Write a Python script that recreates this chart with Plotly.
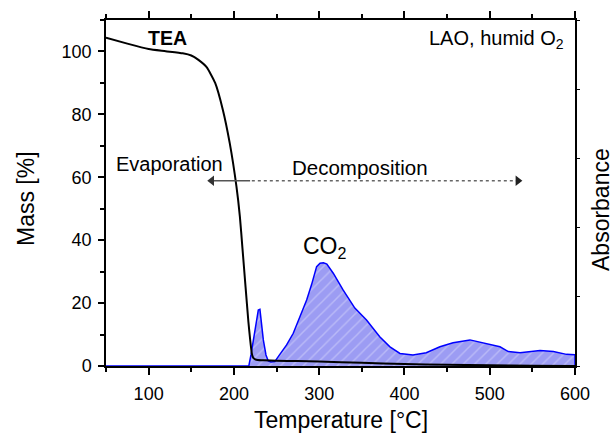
import plotly.graph_objects as go

# ---- data ----
temp_mass = [50, 75, 100, 120, 140, 150, 158, 168, 178, 187, 195, 203, 207, 210, 213.7,
             217, 219, 221, 222, 223, 225, 228, 235, 250, 275, 300, 350, 400, 450, 500, 550, 600]
mass = [104.4, 102.5, 100.8, 100.1, 99.4, 98.7, 97.4, 95.0, 90.0, 81.5, 71.0, 57.0, 47.5, 37.5, 25.0,
        14.0, 8.5, 4.0, 3.0, 2.5, 2.1, 1.9, 1.8, 1.7, 1.55, 1.4, 1.0, 0.6, 0.4, 0.2, 0.1, 0.0]

temp_co2 = [50, 150, 217.5, 220, 222.8, 226, 228.6, 230.5, 232.5, 234.5, 237.6, 240.3, 243.5,
            248, 252, 256, 261.8, 269.6, 277.4, 285.3, 291, 293, 297, 301, 305, 309, 316.5,
            328, 341.8, 355.5, 371, 383, 394.7, 410, 425.6, 441.6, 457, 476.8, 496.3, 512,
            521.8, 535.5, 559, 574.6, 590, 600, 600]
co2 = [0, 0, 0, 3.5, 8.3, 14.6, 17.8, 18.0, 13.5, 8.3, 3.5, 1.6, 1.3,
       1.4, 3.0, 4.5, 6.7, 10.4, 15.7, 21.0, 25.8, 28.0, 31.6, 32.7, 32.8, 32.4, 29.5,
       24.2, 18.4, 14.6, 9.3, 6.1, 4.0, 3.5, 4.2, 6.1, 7.4, 8.3, 7.2, 6.1,
       4.6, 4.2, 4.9, 4.6, 3.7, 3.6, 0]

# arrow geometry (data units)
arrow_y = 58.9
evap_tip, split_x, decomp_tip = 172, 219, 535

FONT = "Arial, Liberation Sans, sans-serif"

fig = go.Figure()
fig.add_trace(go.Scatter(
    x=temp_co2, y=co2, mode="lines", fill="tozeroy",
    line=dict(color="#0000ff", width=1.5),
    fillcolor="#9c9cf3",
    fillpattern=dict(shape="/", bgcolor="#9c9cf3", fgcolor="rgba(255,255,255,0.6)",
                     size=8, solidity=0.18),
    showlegend=False, hoverinfo="skip"))
fig.add_trace(go.Scatter(
    x=temp_mass, y=mass, mode="lines",
    line=dict(color="black", width=2, shape="spline", smoothing=0.5),
    showlegend=False, hoverinfo="skip"))
# invisible trace to activate y2
fig.add_trace(go.Scatter(x=[50], y=[0], yaxis="y2", mode="markers",
                         marker=dict(opacity=0), showlegend=False, hoverinfo="skip"))

# arrows: solid (evaporation) and dotted (decomposition)
fig.add_trace(go.Scatter(x=[evap_tip + 3, split_x], y=[arrow_y, arrow_y], mode="lines",
                         line=dict(color="#555555", width=1.5),
                         showlegend=False, hoverinfo="skip"))
fig.add_trace(go.Scatter(x=[split_x + 2, decomp_tip - 3], y=[arrow_y, arrow_y], mode="lines",
                         line=dict(color="#666666", width=1.5, dash="dot"),
                         showlegend=False, hoverinfo="skip"))
fig.add_trace(go.Scatter(x=[evap_tip + 2], y=[arrow_y], mode="markers",
                         marker=dict(symbol="triangle-left", size=9, color="#333333"),
                         showlegend=False, hoverinfo="skip"))
fig.add_trace(go.Scatter(x=[decomp_tip - 2], y=[arrow_y], mode="markers",
                         marker=dict(symbol="triangle-right", size=9, color="#222222"),
                         showlegend=False, hoverinfo="skip"))

anns = [
    dict(x=122.7, y=104.4, text="<b>TEA</b>", showarrow=False, font=dict(size=19.5)),
    dict(x=590, y=103.8, text="LAO, humid O<sub>2</sub>", showarrow=False,
         xanchor="right", font=dict(size=20)),
    dict(x=125, y=64.1, text="Evaporation", showarrow=False, font=dict(size=20)),
    dict(x=348, y=63.2, text="Decomposition", showarrow=False, font=dict(size=20.5)),
    dict(x=307, y=37.6, text="CO<sub>2</sub>", showarrow=False, font=dict(size=23)),
    dict(x=26, y=199, xref="pixel", yref="pixel", text="Mass [%]", showarrow=False,
         textangle=-90, font=dict(size=23)),
    dict(x=601, y=210, xref="pixel", yref="pixel", text="Absorbance", showarrow=False,
         textangle=-90, font=dict(size=23)),
    dict(x=341, y=420, xref="pixel", yref="pixel", text="Temperature [°C]", showarrow=False,
         font=dict(size=23)),
]
# convert pixel annotations to paper coords
W, H = 613, 434
L, R, T, B = 106, 38, 20, 68
pw, ph = W - L - R, H - T - B
for a in anns:
    if a.get("xref") == "pixel":
        a["xref"] = "paper"
        a["yref"] = "paper"
        a["x"] = (a["x"] - L) / pw
        a["y"] = (H - B - a["y"]) / ph
        a["xanchor"] = "center"
        a["yanchor"] = "middle"
fig.update_layout(annotations=anns)

axis_common = dict(showline=True, linewidth=1.5, linecolor="black", tickcolor="black",
                   showgrid=False, zeroline=False, layer="above traces")
fig.update_layout(
    width=W, height=H,
    margin=dict(l=L, r=R, t=T, b=B, pad=0),
    paper_bgcolor="white", plot_bgcolor="white",
    font=dict(family=FONT, size=18, color="black"),
    xaxis=dict(range=[50, 600], tickvals=[100, 200, 300, 400, 500, 600],
               ticks="outside", ticklen=7, tickwidth=1.5, mirror="ticks",
               minor=dict(tickvals=[50, 150, 250, 350, 450, 550], ticks="outside",
                          ticklen=4, tickwidth=1.5, tickcolor="black", showgrid=False),
               ticklabelstandoff=4, tickfont=dict(size=18), **axis_common),
    yaxis=dict(range=[0, 110], tickvals=[0, 20, 40, 60, 80, 100],
               ticks="outside", ticklen=6, tickwidth=1.5, mirror=False,
               minor=dict(tickvals=[10, 30, 50, 70, 90, 110], ticks="outside",
                          ticklen=4, tickwidth=1.5, tickcolor="black", showgrid=False),
               ticklabelstandoff=3, tickfont=dict(size=18), **axis_common),
    yaxis2=dict(range=[0, 5], overlaying="y", side="right", tickvals=[0, 1, 2, 3, 4, 5],
                ticks="outside", ticklen=3, tickwidth=1.2, showticklabels=False,
                **axis_common),
)

fig.write_html("out.html")
